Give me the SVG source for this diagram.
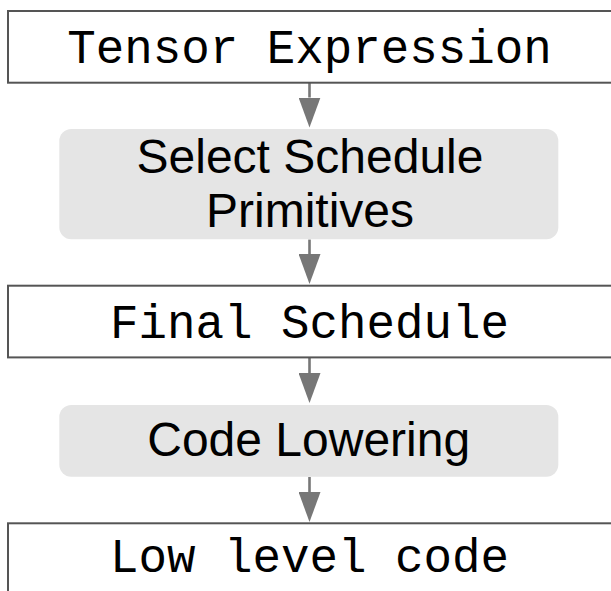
<svg xmlns="http://www.w3.org/2000/svg" width="611" height="591" viewBox="0 0 611 591">
  <style>
    .code-box { fill: #ffffff; stroke: #555555; stroke-width: 2; }
    .step-box { fill: #e5e5e5; stroke: none; }
    .mono { font-family: "Courier New", "Liberation Mono", monospace; font-size: 47.5px; fill: #000000; text-anchor: middle; }
    .sans { font-family: "Liberation Sans", Arial, Helvetica, sans-serif; font-size: 48px; fill: #000000; text-anchor: middle; }
    .flow { stroke: #777777; stroke-width: 2.6; fill: none; marker-end: url(#head); }
  </style>
  <defs>
    <marker id="head" viewBox="0 0 30 22" refX="0" refY="11" markerWidth="30" markerHeight="22" markerUnits="userSpaceOnUse" orient="auto">
      <path d="M0,0 L30,11 L0,22 Z" fill="#777777"/>
    </marker>
  </defs>
  <rect width="611" height="591" fill="#ffffff"/>

  <g id="connectors">
    <line class="flow" x1="309.5" y1="83" x2="309.5" y2="97.5"/>
    <line class="flow" x1="309.5" y1="239.5" x2="309.5" y2="254"/>
    <line class="flow" x1="309.5" y1="357.5" x2="309.5" y2="373"/>
    <line class="flow" x1="309.5" y1="477" x2="309.5" y2="492"/>
  </g>

  <g id="tensor-expression">
    <rect class="code-box" x="8" y="11" width="620" height="71.7"/>
    <text class="mono" x="309.5" y="62.7">Tensor Expression</text>
  </g>

  <g id="select-schedule-primitives">
    <rect class="step-box" x="59.3" y="129" width="499" height="110.3" rx="12" ry="12"/>
    <text class="sans" x="310" y="173.3">Select Schedule</text>
    <text class="sans" x="310" y="226.7">Primitives</text>
  </g>

  <g id="final-schedule">
    <rect class="code-box" x="8" y="285.7" width="620" height="71.7"/>
    <text class="mono" x="309.5" y="338.3">Final Schedule</text>
  </g>

  <g id="code-lowering">
    <rect class="step-box" x="59.3" y="405" width="499" height="71.7" rx="12" ry="12"/>
    <text class="sans" x="308.7" y="456">Code Lowering</text>
  </g>

  <g id="low-level-code">
    <rect class="code-box" x="8" y="523.3" width="620" height="100"/>
    <text class="mono" x="309.5" y="571.7">Low level code</text>
  </g>
</svg>
